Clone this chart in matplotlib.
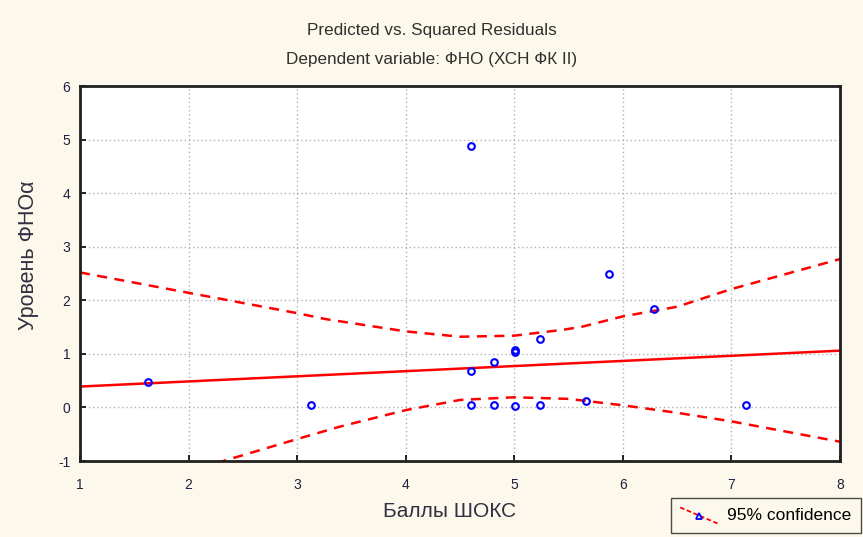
import matplotlib.pyplot as plt
from matplotlib.lines import Line2D
from matplotlib.legend_handler import HandlerBase

plt.rcParams['axes.unicode_minus'] = False

# точки: прогноз vs квадрат остатков
x_pts = [1.63, 3.13, 4.60, 4.60, 4.60, 4.81, 4.81, 5.01, 5.01, 5.01, 5.24, 5.24, 5.66, 5.87, 6.29, 7.13]
y_pts = [0.48, 0.05, 4.88, 0.68, 0.05, 0.85, 0.05, 1.07, 1.03, 0.03, 1.28, 0.05, 0.12, 2.49, 1.84, 0.05]

# линия регрессии (концы)
fit_x = [1, 8]
fit_y = [0.39, 1.06]

# 95% доверительные границы
up_x = [1, 2, 3, 3.26, 4, 4.5, 5, 5.45, 5.63, 6, 6.5, 7, 8]
up_y = [2.52, 2.14, 1.76, 1.65, 1.42, 1.32, 1.34, 1.45, 1.51, 1.70, 1.88, 2.21, 2.77]
lo_x = [1.8, 2.32, 3, 3.39, 4, 4.5, 5, 5.5, 6, 6.5, 7, 8]
lo_y = [-1.35, -1.0, -0.59, -0.36, -0.05, 0.14, 0.19, 0.16, 0.04, -0.10, -0.26, -0.64]

bg = '#fdf8ec'
fnt = 'Liberation Sans'
fig = plt.figure(figsize=(8.63, 5.37), dpi=100, facecolor=bg)
ax = fig.add_axes([0.0927, 0.1415, 0.8807, 0.6983])
ax.set_facecolor('white')

ax.plot(fit_x, fit_y, color='#ff0000', lw=1.8)
ax.plot(up_x, up_y, color='#ff0000', lw=1.8, linestyle=(0, (4, 3)))
ax.plot(lo_x, lo_y, color='#ff0000', lw=1.8, linestyle=(0, (4, 3)))
ax.plot(x_pts, y_pts, linestyle='none', marker='o', ms=4.8, mfc='none',
        mec='#0000ff', mew=1.5)

ax.set_xlim(1, 8)
ax.set_ylim(-1, 6)
ax.set_xticks(range(1, 9))
ax.set_yticks(range(-1, 7))
ax.grid(True, color='#b0b0b0', linestyle=(0, (1, 2)), lw=1)
ax.tick_params(direction='in', length=4, width=1.2, labelsize=10, colors='black',
               labelcolor='#202040')
ax.tick_params(axis='x', pad=12)
ax.tick_params(axis='y', pad=7)
for lab in ax.get_xticklabels() + ax.get_yticklabels():
    lab.set_family(fnt)
for s in ax.spines.values():
    s.set_linewidth(2)
    s.set_color('#202020')

fig.text(0.5, 0.944, 'Predicted vs. Squared Residuals', ha='center', va='center',
         fontsize=12.3, family=fnt, color='#303030')
fig.text(0.5, 0.890, 'Dependent variable: ФНО (ХСН ФК II)', ha='center', va='center',
         fontsize=12.3, family=fnt, color='#303030')
fig.text(0.5214, 0.048, 'Баллы ШОКС', ha='center', va='center',
         fontsize=15, family=fnt, color='#303040')
fig.text(0.0325, 0.525, 'Уровень ФНОα', ha='center', va='center', rotation=90,
         fontsize=15.5, family=fnt, color='#303040')


class DiagHandler(HandlerBase):
    # наклонная линия с маркером, как в легенде оригинала
    def create_artists(self, legend, orig, xd, yd, width, height, fontsize, trans):
        x0, x1 = -xd, -xd + width
        y0, y1 = -yd + height * 1.05, -yd - height * 0.3
        ln = Line2D([x0, x1], [y0, y1], color='#ff0000', lw=1.3, linestyle=(0, (2.5, 1.5)))
        mk = Line2D([(x0 + x1) / 2], [(y0 + y1) / 2], marker='^', ms=4, mfc='none',
                    mec='#0000ff', mew=1.3, linestyle='none')
        ln.set_transform(trans)
        mk.set_transform(trans)
        return [ln, mk]


h = Line2D([], [])
fig.legend([h], ['95% confidence'], loc='lower right', bbox_to_anchor=(0.9975, 0.008),
           frameon=True, fancybox=False, edgecolor='#202020', facecolor=bg,
           prop={'family': fnt, 'size': 12.5}, handlelength=2.2, handletextpad=0.5,
           borderpad=0.55, borderaxespad=0, handler_map={Line2D: DiagHandler()})

fig.savefig('out.png', dpi=100, facecolor=bg)
